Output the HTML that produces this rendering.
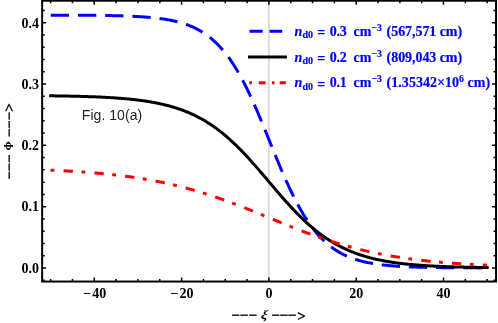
<!DOCTYPE html>
<html><head><meta charset="utf-8"><title>Fig. 10(a)</title>
<style>
html,body{margin:0;padding:0;background:#fff;}
body{width:498px;height:323px;overflow:hidden;font-family:"Liberation Serif",serif;}
svg{display:block;will-change:transform;}
svg text{font-family:"Liberation Serif",serif;font-weight:bold;}
svg text.sans{font-family:"Liberation Sans",sans-serif;font-weight:normal;}
</style></head><body>
<svg width="498" height="323" viewBox="0 0 498 323">
<rect width="498" height="323" fill="#fff"/>
<line x1="268.9" y1="0.7" x2="268.9" y2="281.55" stroke="#cacaca" stroke-width="1.25"/>
<!-- curves -->
<path d="M50.80,15.14 L51.89,15.14 L52.98,15.14 L54.07,15.14 L55.16,15.15 L56.25,15.15 L57.35,15.15 L58.44,15.15 L59.53,15.16 L60.62,15.16 L61.71,15.16 L62.80,15.17 L63.89,15.17 L64.98,15.17 L66.07,15.18 L67.16,15.18 L68.25,15.18 L69.34,15.19 L70.44,15.19 L71.53,15.20 L72.62,15.20 L73.71,15.21 L74.80,15.21 L75.89,15.22 L76.98,15.22 L78.07,15.23 L79.16,15.24 L80.25,15.24 L81.34,15.25 L82.44,15.26 L83.53,15.26 L84.62,15.27 L85.71,15.28 L86.80,15.29 L87.89,15.30 L88.98,15.31 L90.07,15.32 L91.16,15.33 L92.25,15.34 L93.34,15.35 L94.44,15.36 L95.53,15.37 L96.62,15.38 L97.71,15.39 L98.80,15.41 L99.89,15.42 L100.98,15.44 L102.07,15.45 L103.16,15.47 L104.25,15.48 L105.34,15.50 L106.43,15.52 L107.53,15.54 L108.62,15.56 L109.71,15.58 L110.80,15.60 L111.89,15.62 L112.98,15.64 L114.07,15.67 L115.16,15.69 L116.25,15.72 L117.34,15.75 L118.43,15.78 L119.53,15.80 L120.62,15.84 L121.71,15.87 L122.80,15.90 L123.89,15.94 L124.98,15.97 L126.07,16.01 L127.16,16.05 L128.25,16.09 L129.34,16.14 L130.43,16.18 L131.52,16.23 L132.62,16.28 L133.71,16.33 L134.80,16.39 L135.89,16.44 L136.98,16.50 L138.07,16.56 L139.16,16.63 L140.25,16.69 L141.34,16.76 L142.43,16.83 L143.52,16.91 L144.62,16.99 L145.71,17.07 L146.80,17.16 L147.89,17.25 L148.98,17.34 L150.07,17.44 L151.16,17.54 L152.25,17.64 L153.34,17.75 L154.43,17.87 L155.52,17.99 L156.61,18.11 L157.71,18.24 L158.80,18.38 L159.89,18.52 L160.98,18.66 L162.07,18.82 L163.16,18.98 L164.25,19.14 L165.34,19.32 L166.43,19.50 L167.52,19.69 L168.61,19.88 L169.71,20.09 L170.80,20.30 L171.89,20.52 L172.98,20.75 L174.07,20.99 L175.16,21.24 L176.25,21.50 L177.34,21.78 L178.43,22.06 L179.52,22.35 L180.61,22.66 L181.70,22.98 L182.80,23.31 L183.89,23.66 L184.98,24.02 L186.07,24.39 L187.16,24.78 L188.25,25.18 L189.34,25.60 L190.43,26.04 L191.52,26.50 L192.61,26.97 L193.70,27.46 L194.80,27.97 L195.89,28.50 L196.98,29.05 L198.07,29.63 L199.16,30.22 L200.25,30.84 L201.34,31.48 L202.43,32.14 L203.52,32.83 L204.61,33.55 L205.70,34.29 L206.80,35.06 L207.89,35.86 L208.98,36.68 L210.07,37.54 L211.16,38.43 L212.25,39.34 L213.34,40.29 L214.43,41.28 L215.52,42.29 L216.61,43.34 L217.70,44.43 L218.79,45.55 L219.89,46.71 L220.98,47.91 L222.07,49.14 L223.16,50.42 L224.25,51.73 L225.34,53.09 L226.43,54.48 L227.52,55.92 L228.61,57.40 L229.70,58.92 L230.79,60.48 L231.89,62.09 L232.98,63.74 L234.07,65.44 L235.16,67.18 L236.25,68.96 L237.34,70.78 L238.43,72.66 L239.52,74.57 L240.61,76.53 L241.70,78.53 L242.79,80.58 L243.88,82.66 L244.98,84.79 L246.07,86.96 L247.16,89.17 L248.25,91.42 L249.34,93.71 L250.43,96.03 L251.52,98.40 L252.61,100.79 L253.70,103.22 L254.79,105.68 L255.88,108.17 L256.98,110.69 L258.07,113.23 L259.16,115.80 L260.25,118.39 L261.34,121.00 L262.43,123.63 L263.52,126.28 L264.61,128.93 L265.70,131.60 L266.79,134.28 L267.88,136.97 L268.97,139.66 L270.07,142.35 L271.16,145.04 L272.25,147.73 L273.34,150.41 L274.43,153.08 L275.52,155.75 L276.61,158.40 L277.70,161.03 L278.79,163.65 L279.88,166.25 L280.97,168.83 L282.07,171.38 L283.16,173.91 L284.25,176.41 L285.34,178.88 L286.43,181.32 L287.52,183.73 L288.61,186.10 L289.70,188.44 L290.79,190.74 L291.88,193.01 L292.97,195.23 L294.07,197.42 L295.16,199.56 L296.25,201.67 L297.34,203.73 L298.43,205.75 L299.52,207.72 L300.61,209.65 L301.70,211.54 L302.79,213.39 L303.88,215.18 L304.97,216.94 L306.06,218.65 L307.16,220.32 L308.25,221.94 L309.34,223.52 L310.43,225.06 L311.52,226.56 L312.61,228.01 L313.70,229.42 L314.79,230.79 L315.88,232.12 L316.97,233.41 L318.06,234.66 L319.16,235.87 L320.25,237.05 L321.34,238.18 L322.43,239.28 L323.52,240.35 L324.61,241.38 L325.70,242.37 L326.79,243.33 L327.88,244.26 L328.97,245.16 L330.06,246.03 L331.15,246.87 L332.25,247.68 L333.34,248.46 L334.43,249.21 L335.52,249.93 L336.61,250.63 L337.70,251.31 L338.79,251.96 L339.88,252.58 L340.97,253.19 L342.06,253.77 L343.15,254.33 L344.25,254.86 L345.34,255.38 L346.43,255.88 L347.52,256.36 L348.61,256.82 L349.70,257.27 L350.79,257.69 L351.88,258.11 L352.97,258.50 L354.06,258.88 L355.15,259.25 L356.25,259.60 L357.34,259.93 L358.43,260.26 L359.52,260.57 L360.61,260.87 L361.70,261.15 L362.79,261.43 L363.88,261.70 L364.97,261.95 L366.06,262.19 L367.15,262.43 L368.24,262.65 L369.34,262.87 L370.43,263.08 L371.52,263.28 L372.61,263.47 L373.70,263.65 L374.79,263.83 L375.88,264.00 L376.97,264.16 L378.06,264.32 L379.15,264.47 L380.24,264.61 L381.34,264.75 L382.43,264.88 L383.52,265.00 L384.61,265.13 L385.70,265.24 L386.79,265.35 L387.88,265.46 L388.97,265.56 L390.06,265.66 L391.15,265.76 L392.24,265.85 L393.33,265.93 L394.43,266.02 L395.52,266.10 L396.61,266.17 L397.70,266.25 L398.79,266.32 L399.88,266.39 L400.97,266.45 L402.06,266.51 L403.15,266.57 L404.24,266.63 L405.33,266.68 L406.43,266.74 L407.52,266.79 L408.61,266.84 L409.70,266.88 L410.79,266.93 L411.88,266.97 L412.97,267.01 L414.06,267.05 L415.15,267.09 L416.24,267.12 L417.33,267.16 L418.42,267.19 L419.52,267.22 L420.61,267.25 L421.70,267.28 L422.79,267.31 L423.88,267.33 L424.97,267.36 L426.06,267.38 L427.15,267.41 L428.24,267.43 L429.33,267.45 L430.42,267.47 L431.52,267.49 L432.61,267.51 L433.70,267.53 L434.79,267.55 L435.88,267.56 L436.97,267.58 L438.06,267.60 L439.15,267.61 L440.24,267.62 L441.33,267.64 L442.42,267.65 L443.51,267.66 L444.61,267.68 L445.70,267.69 L446.79,267.70 L447.88,267.71 L448.97,267.72 L450.06,267.73 L451.15,267.74 L452.24,267.75 L453.33,267.75 L454.42,267.76 L455.51,267.77 L456.61,267.78 L457.70,267.79 L458.79,267.79 L459.88,267.80 L460.97,267.81 L462.06,267.81 L463.15,267.82 L464.24,267.82 L465.33,267.83 L466.42,267.83 L467.51,267.84 L468.61,267.84 L469.70,267.85 L470.79,267.85 L471.88,267.86 L472.97,267.86 L474.06,267.86 L475.15,267.87 L476.24,267.87 L477.33,267.87 L478.42,267.88 L479.51,267.88 L480.60,267.88 L481.70,267.89 L482.79,267.89 L483.88,267.89 L484.97,267.89 L486.06,267.90 L487.15,267.90" fill="none" stroke="#0000ff" stroke-width="3" stroke-dasharray="18.3 8.9"/>
<path d="M50.65,95.83 L51.74,95.84 L52.83,95.86 L53.92,95.87 L55.01,95.88 L56.11,95.90 L57.20,95.91 L58.29,95.93 L59.38,95.95 L60.47,95.96 L61.56,95.98 L62.65,96.00 L63.74,96.02 L64.84,96.04 L65.93,96.06 L67.02,96.08 L68.11,96.10 L69.20,96.12 L70.29,96.14 L71.38,96.16 L72.47,96.18 L73.57,96.21 L74.66,96.23 L75.75,96.26 L76.84,96.29 L77.93,96.31 L79.02,96.34 L80.11,96.37 L81.20,96.40 L82.30,96.43 L83.39,96.46 L84.48,96.49 L85.57,96.53 L86.66,96.56 L87.75,96.59 L88.84,96.63 L89.93,96.67 L91.03,96.71 L92.12,96.75 L93.21,96.79 L94.30,96.83 L95.39,96.87 L96.48,96.92 L97.57,96.96 L98.66,97.01 L99.76,97.06 L100.85,97.11 L101.94,97.16 L103.03,97.21 L104.12,97.27 L105.21,97.32 L106.30,97.38 L107.39,97.44 L108.49,97.50 L109.58,97.57 L110.67,97.63 L111.76,97.70 L112.85,97.77 L113.94,97.84 L115.03,97.91 L116.12,97.99 L117.22,98.06 L118.31,98.14 L119.40,98.23 L120.49,98.31 L121.58,98.40 L122.67,98.49 L123.76,98.58 L124.85,98.67 L125.95,98.77 L127.04,98.87 L128.13,98.98 L129.22,99.08 L130.31,99.19 L131.40,99.30 L132.49,99.42 L133.58,99.54 L134.68,99.66 L135.77,99.79 L136.86,99.92 L137.95,100.05 L139.04,100.19 L140.13,100.33 L141.22,100.48 L142.31,100.62 L143.41,100.78 L144.50,100.94 L145.59,101.10 L146.68,101.27 L147.77,101.44 L148.86,101.61 L149.95,101.80 L151.04,101.98 L152.14,102.18 L153.23,102.37 L154.32,102.58 L155.41,102.78 L156.50,103.00 L157.59,103.22 L158.68,103.44 L159.77,103.68 L160.87,103.92 L161.96,104.16 L163.05,104.41 L164.14,104.67 L165.23,104.94 L166.32,105.21 L167.41,105.49 L168.50,105.78 L169.60,106.07 L170.69,106.38 L171.78,106.69 L172.87,107.01 L173.96,107.34 L175.05,107.67 L176.14,108.02 L177.23,108.37 L178.33,108.74 L179.42,109.11 L180.51,109.49 L181.60,109.88 L182.69,110.28 L183.78,110.69 L184.87,111.12 L185.96,111.55 L187.06,111.99 L188.15,112.44 L189.24,112.91 L190.33,113.39 L191.42,113.87 L192.51,114.37 L193.60,114.88 L194.69,115.40 L195.79,115.94 L196.88,116.49 L197.97,117.04 L199.06,117.62 L200.15,118.20 L201.24,118.80 L202.33,119.41 L203.42,120.03 L204.52,120.67 L205.61,121.32 L206.70,121.99 L207.79,122.67 L208.88,123.36 L209.97,124.07 L211.06,124.79 L212.15,125.52 L213.25,126.27 L214.34,127.04 L215.43,127.82 L216.52,128.61 L217.61,129.42 L218.70,130.24 L219.79,131.08 L220.88,131.94 L221.98,132.80 L223.07,133.69 L224.16,134.58 L225.25,135.50 L226.34,136.42 L227.43,137.36 L228.52,138.32 L229.61,139.29 L230.71,140.27 L231.80,141.27 L232.89,142.29 L233.98,143.31 L235.07,144.35 L236.16,145.41 L237.25,146.48 L238.34,147.56 L239.44,148.65 L240.53,149.76 L241.62,150.87 L242.71,152.01 L243.80,153.15 L244.89,154.30 L245.98,155.46 L247.07,156.64 L248.17,157.82 L249.26,159.02 L250.35,160.22 L251.44,161.44 L252.53,162.66 L253.62,163.89 L254.71,165.13 L255.80,166.37 L256.90,167.62 L257.99,168.88 L259.08,170.14 L260.17,171.41 L261.26,172.68 L262.35,173.96 L263.44,175.24 L264.53,176.52 L265.63,177.81 L266.72,179.09 L267.81,180.38 L268.90,181.67 L269.99,182.96 L271.08,184.25 L272.17,185.53 L273.26,186.82 L274.36,188.10 L275.45,189.38 L276.54,190.66 L277.63,191.93 L278.72,193.20 L279.81,194.46 L280.90,195.72 L282.00,196.97 L283.09,198.21 L284.18,199.45 L285.27,200.68 L286.36,201.90 L287.45,203.12 L288.54,204.32 L289.63,205.52 L290.72,206.70 L291.82,207.88 L292.91,209.04 L294.00,210.19 L295.09,211.34 L296.18,212.47 L297.27,213.58 L298.36,214.69 L299.45,215.78 L300.55,216.86 L301.64,217.93 L302.73,218.99 L303.82,220.03 L304.91,221.05 L306.00,222.07 L307.09,223.07 L308.19,224.05 L309.28,225.02 L310.37,225.98 L311.46,226.92 L312.55,227.85 L313.64,228.76 L314.73,229.65 L315.82,230.54 L316.91,231.41 L318.01,232.26 L319.10,233.10 L320.19,233.92 L321.28,234.73 L322.37,235.52 L323.46,236.30 L324.55,237.07 L325.64,237.82 L326.74,238.55 L327.83,239.27 L328.92,239.98 L330.01,240.67 L331.10,241.35 L332.19,242.02 L333.28,242.67 L334.38,243.31 L335.47,243.93 L336.56,244.54 L337.65,245.14 L338.74,245.72 L339.83,246.30 L340.92,246.86 L342.01,247.40 L343.10,247.94 L344.20,248.46 L345.29,248.97 L346.38,249.47 L347.47,249.96 L348.56,250.43 L349.65,250.90 L350.74,251.35 L351.83,251.79 L352.93,252.22 L354.02,252.65 L355.11,253.06 L356.20,253.46 L357.29,253.85 L358.38,254.23 L359.47,254.60 L360.56,254.97 L361.66,255.32 L362.75,255.67 L363.84,256.00 L364.93,256.33 L366.02,256.65 L367.11,256.96 L368.20,257.27 L369.29,257.56 L370.39,257.85 L371.48,258.13 L372.57,258.40 L373.66,258.67 L374.75,258.93 L375.84,259.18 L376.93,259.42 L378.02,259.66 L379.12,259.90 L380.21,260.12 L381.30,260.34 L382.39,260.56 L383.48,260.76 L384.57,260.97 L385.66,261.17 L386.75,261.36 L387.85,261.54 L388.94,261.73 L390.03,261.90 L391.12,262.07 L392.21,262.24 L393.30,262.40 L394.39,262.56 L395.49,262.72 L396.58,262.87 L397.67,263.01 L398.76,263.15 L399.85,263.29 L400.94,263.42 L402.03,263.55 L403.12,263.68 L404.21,263.80 L405.31,263.92 L406.40,264.04 L407.49,264.15 L408.58,264.26 L409.67,264.37 L410.76,264.47 L411.85,264.57 L412.94,264.67 L414.04,264.76 L415.13,264.85 L416.22,264.94 L417.31,265.03 L418.40,265.11 L419.49,265.20 L420.58,265.28 L421.67,265.35 L422.77,265.43 L423.86,265.50 L424.95,265.57 L426.04,265.64 L427.13,265.71 L428.22,265.77 L429.31,265.84 L430.40,265.90 L431.50,265.96 L432.59,266.02 L433.68,266.07 L434.77,266.13 L435.86,266.18 L436.95,266.23 L438.04,266.28 L439.13,266.33 L440.23,266.38 L441.32,266.42 L442.41,266.47 L443.50,266.51 L444.59,266.55 L445.68,266.59 L446.77,266.63 L447.87,266.67 L448.96,266.71 L450.05,266.75 L451.14,266.78 L452.23,266.82 L453.32,266.85 L454.41,266.88 L455.50,266.91 L456.60,266.94 L457.69,266.97 L458.78,267.00 L459.87,267.03 L460.96,267.06 L462.05,267.08 L463.14,267.11 L464.23,267.13 L465.32,267.16 L466.42,267.18 L467.51,267.20 L468.60,267.22 L469.69,267.24 L470.78,267.27 L471.87,267.29 L472.96,267.30 L474.05,267.32 L475.15,267.34 L476.24,267.36 L477.33,267.38 L478.42,267.39 L479.51,267.41 L480.60,267.43 L481.69,267.44 L482.78,267.46 L483.88,267.47 L484.97,267.49 L486.06,267.50 L487.15,267.51" fill="none" stroke="#000" stroke-width="3" stroke-linecap="square"/>
<path d="M50.60,170.17 L51.69,170.21 L52.78,170.26 L53.87,170.31 L54.97,170.36 L56.06,170.41 L57.15,170.47 L58.24,170.52 L59.33,170.57 L60.42,170.63 L61.51,170.68 L62.61,170.74 L63.70,170.80 L64.79,170.86 L65.88,170.92 L66.97,170.98 L68.06,171.04 L69.15,171.10 L70.24,171.17 L71.34,171.23 L72.43,171.30 L73.52,171.37 L74.61,171.43 L75.70,171.50 L76.79,171.57 L77.88,171.65 L78.98,171.72 L80.07,171.79 L81.16,171.87 L82.25,171.95 L83.34,172.02 L84.43,172.10 L85.52,172.18 L86.62,172.26 L87.71,172.35 L88.80,172.43 L89.89,172.52 L90.98,172.60 L92.07,172.69 L93.16,172.78 L94.25,172.87 L95.35,172.97 L96.44,173.06 L97.53,173.16 L98.62,173.26 L99.71,173.35 L100.80,173.45 L101.89,173.56 L102.99,173.66 L104.08,173.77 L105.17,173.87 L106.26,173.98 L107.35,174.09 L108.44,174.20 L109.53,174.32 L110.63,174.43 L111.72,174.55 L112.81,174.67 L113.90,174.79 L114.99,174.91 L116.08,175.04 L117.17,175.17 L118.27,175.29 L119.36,175.43 L120.45,175.56 L121.54,175.69 L122.63,175.83 L123.72,175.97 L124.81,176.11 L125.90,176.25 L127.00,176.40 L128.09,176.54 L129.18,176.69 L130.27,176.84 L131.36,177.00 L132.45,177.15 L133.54,177.31 L134.64,177.47 L135.73,177.64 L136.82,177.80 L137.91,177.97 L139.00,178.14 L140.09,178.31 L141.18,178.48 L142.28,178.66 L143.37,178.84 L144.46,179.02 L145.55,179.21 L146.64,179.39 L147.73,179.58 L148.82,179.78 L149.92,179.97 L151.01,180.17 L152.10,180.37 L153.19,180.57 L154.28,180.78 L155.37,180.99 L156.46,181.20 L157.55,181.41 L158.65,181.63 L159.74,181.85 L160.83,182.07 L161.92,182.29 L163.01,182.52 L164.10,182.75 L165.19,182.99 L166.29,183.22 L167.38,183.46 L168.47,183.70 L169.56,183.95 L170.65,184.20 L171.74,184.45 L172.83,184.70 L173.93,184.96 L175.02,185.22 L176.11,185.48 L177.20,185.75 L178.29,186.02 L179.38,186.29 L180.47,186.57 L181.56,186.84 L182.66,187.13 L183.75,187.41 L184.84,187.70 L185.93,187.99 L187.02,188.28 L188.11,188.58 L189.20,188.88 L190.30,189.18 L191.39,189.49 L192.48,189.80 L193.57,190.11 L194.66,190.42 L195.75,190.74 L196.84,191.06 L197.94,191.39 L199.03,191.72 L200.12,192.05 L201.21,192.38 L202.30,192.72 L203.39,193.06 L204.48,193.40 L205.58,193.74 L206.67,194.09 L207.76,194.44 L208.85,194.80 L209.94,195.16 L211.03,195.52 L212.12,195.88 L213.21,196.25 L214.31,196.61 L215.40,196.99 L216.49,197.36 L217.58,197.74 L218.67,198.12 L219.76,198.50 L220.85,198.88 L221.95,199.27 L223.04,199.66 L224.13,200.05 L225.22,200.45 L226.31,200.84 L227.40,201.24 L228.49,201.65 L229.59,202.05 L230.68,202.46 L231.77,202.87 L232.86,203.28 L233.95,203.69 L235.04,204.10 L236.13,204.52 L237.23,204.94 L238.32,205.36 L239.41,205.78 L240.50,206.21 L241.59,206.64 L242.68,207.06 L243.77,207.49 L244.86,207.92 L245.96,208.36 L247.05,208.79 L248.14,209.23 L249.23,209.66 L250.32,210.10 L251.41,210.54 L252.50,210.98 L253.60,211.42 L254.69,211.86 L255.78,212.31 L256.87,212.75 L257.96,213.20 L259.05,213.64 L260.14,214.09 L261.24,214.54 L262.33,214.98 L263.42,215.43 L264.51,215.88 L265.60,216.33 L266.69,216.78 L267.78,217.22 L268.88,217.67 L269.97,218.12 L271.06,218.57 L272.15,219.02 L273.24,219.47 L274.33,219.92 L275.42,220.36 L276.51,220.81 L277.61,221.26 L278.70,221.70 L279.79,222.15 L280.88,222.60 L281.97,223.04 L283.06,223.48 L284.15,223.93 L285.25,224.37 L286.34,224.81 L287.43,225.25 L288.52,225.68 L289.61,226.12 L290.70,226.56 L291.79,226.99 L292.89,227.42 L293.98,227.86 L295.07,228.28 L296.16,228.71 L297.25,229.14 L298.34,229.56 L299.43,229.99 L300.52,230.41 L301.62,230.83 L302.71,231.24 L303.80,231.66 L304.89,232.07 L305.98,232.48 L307.07,232.89 L308.16,233.30 L309.26,233.70 L310.35,234.11 L311.44,234.51 L312.53,234.90 L313.62,235.30 L314.71,235.69 L315.80,236.08 L316.90,236.47 L317.99,236.85 L319.08,237.23 L320.17,237.61 L321.26,237.99 L322.35,238.37 L323.44,238.74 L324.54,239.11 L325.63,239.47 L326.72,239.83 L327.81,240.20 L328.90,240.55 L329.99,240.91 L331.08,241.26 L332.17,241.61 L333.27,241.95 L334.36,242.30 L335.45,242.64 L336.54,242.97 L337.63,243.31 L338.72,243.64 L339.81,243.96 L340.91,244.29 L342.00,244.61 L343.09,244.93 L344.18,245.24 L345.27,245.56 L346.36,245.87 L347.45,246.17 L348.55,246.48 L349.64,246.78 L350.73,247.07 L351.82,247.37 L352.91,247.66 L354.00,247.94 L355.09,248.23 L356.19,248.51 L357.28,248.79 L358.37,249.07 L359.46,249.34 L360.55,249.61 L361.64,249.87 L362.73,250.14 L363.82,250.40 L364.92,250.65 L366.01,250.91 L367.10,251.16 L368.19,251.41 L369.28,251.65 L370.37,251.90 L371.46,252.13 L372.56,252.37 L373.65,252.61 L374.74,252.84 L375.83,253.06 L376.92,253.29 L378.01,253.51 L379.10,253.73 L380.20,253.95 L381.29,254.16 L382.38,254.37 L383.47,254.58 L384.56,254.79 L385.65,254.99 L386.74,255.19 L387.83,255.39 L388.93,255.58 L390.02,255.77 L391.11,255.96 L392.20,256.15 L393.29,256.34 L394.38,256.52 L395.47,256.70 L396.57,256.88 L397.66,257.05 L398.75,257.22 L399.84,257.39 L400.93,257.56 L402.02,257.73 L403.11,257.89 L404.21,258.05 L405.30,258.21 L406.39,258.36 L407.48,258.52 L408.57,258.67 L409.66,258.82 L410.75,258.96 L411.85,259.11 L412.94,259.25 L414.03,259.39 L415.12,259.53 L416.21,259.67 L417.30,259.80 L418.39,259.94 L419.48,260.07 L420.58,260.20 L421.67,260.32 L422.76,260.45 L423.85,260.57 L424.94,260.69 L426.03,260.81 L427.12,260.93 L428.22,261.04 L429.31,261.16 L430.40,261.27 L431.49,261.38 L432.58,261.49 L433.67,261.60 L434.76,261.70 L435.86,261.81 L436.95,261.91 L438.04,262.01 L439.13,262.11 L440.22,262.21 L441.31,262.30 L442.40,262.40 L443.50,262.49 L444.59,262.58 L445.68,262.67 L446.77,262.76 L447.86,262.85 L448.95,262.93 L450.04,263.02 L451.13,263.10 L452.23,263.18 L453.32,263.26 L454.41,263.34 L455.50,263.42 L456.59,263.50 L457.68,263.57 L458.77,263.65 L459.87,263.72 L460.96,263.79 L462.05,263.86 L463.14,263.93 L464.23,264.00 L465.32,264.07 L466.41,264.13 L467.51,264.20 L468.60,264.26 L469.69,264.32 L470.78,264.39 L471.87,264.45 L472.96,264.51 L474.05,264.57 L475.14,264.62 L476.24,264.68 L477.33,264.74 L478.42,264.79 L479.51,264.85 L480.60,264.90 L481.69,264.95 L482.78,265.00 L483.88,265.05 L484.97,265.10 L486.06,265.15 L487.15,265.20" fill="none" stroke="#ff0000" stroke-width="3" stroke-dasharray="3.8 9.15 9.4 8.55"/>
<!-- legend samples -->
<path d="M249.5,31.3 h13.1 M269.6,31.3 h12.6" stroke="#0000ff" stroke-width="3" fill="none"/>
<path d="M248,57.1 H286.9" stroke="#000" stroke-width="3" fill="none"/>
<path d="M249.3,82.8 h2.6 M258.8,82.8 h6.8 M271.9,82.8 h2.6 M279.7,82.8 h6.2" stroke="#ff0000" stroke-width="3" fill="none"/>
<!-- frame -->
<rect x="42.15" y="0.7" width="453.90000000000003" height="280.85" fill="none" stroke="#000" stroke-width="2"/>
<path d="M50.65,281.55 v-2.5 M50.65,0.7 v2.5 M72.47,281.55 v-2.5 M72.47,0.7 v2.5 M94.30,281.55 v-4.0 M94.30,0.7 v4.0 M116.12,281.55 v-2.5 M116.12,0.7 v2.5 M137.95,281.55 v-2.5 M137.95,0.7 v2.5 M159.77,281.55 v-2.5 M159.77,0.7 v2.5 M181.60,281.55 v-4.0 M181.60,0.7 v4.0 M203.42,281.55 v-2.5 M203.42,0.7 v2.5 M225.25,281.55 v-2.5 M225.25,0.7 v2.5 M247.07,281.55 v-2.5 M247.07,0.7 v2.5 M268.90,281.55 v-4.0 M268.90,0.7 v4.0 M290.72,281.55 v-2.5 M290.72,0.7 v2.5 M312.55,281.55 v-2.5 M312.55,0.7 v2.5 M334.38,281.55 v-2.5 M334.38,0.7 v2.5 M356.20,281.55 v-4.0 M356.20,0.7 v4.0 M378.02,281.55 v-2.5 M378.02,0.7 v2.5 M399.85,281.55 v-2.5 M399.85,0.7 v2.5 M421.67,281.55 v-2.5 M421.67,0.7 v2.5 M443.50,281.55 v-4.0 M443.50,0.7 v4.0 M465.32,281.55 v-2.5 M465.32,0.7 v2.5 M487.15,281.55 v-2.5 M487.15,0.7 v2.5 M42.15,280.21 h2.5 M496.05,280.21 h-2.5 M42.15,267.95 h4.0 M496.05,267.95 h-4.0 M42.15,255.69 h2.5 M496.05,255.69 h-2.5 M42.15,243.43 h2.5 M496.05,243.43 h-2.5 M42.15,231.17 h2.5 M496.05,231.17 h-2.5 M42.15,218.91 h2.5 M496.05,218.91 h-2.5 M42.15,206.65 h4.0 M496.05,206.65 h-4.0 M42.15,194.39 h2.5 M496.05,194.39 h-2.5 M42.15,182.13 h2.5 M496.05,182.13 h-2.5 M42.15,169.87 h2.5 M496.05,169.87 h-2.5 M42.15,157.61 h2.5 M496.05,157.61 h-2.5 M42.15,145.35 h4.0 M496.05,145.35 h-4.0 M42.15,133.09 h2.5 M496.05,133.09 h-2.5 M42.15,120.83 h2.5 M496.05,120.83 h-2.5 M42.15,108.57 h2.5 M496.05,108.57 h-2.5 M42.15,96.31 h2.5 M496.05,96.31 h-2.5 M42.15,84.05 h4.0 M496.05,84.05 h-4.0 M42.15,71.79 h2.5 M496.05,71.79 h-2.5 M42.15,59.53 h2.5 M496.05,59.53 h-2.5 M42.15,47.27 h2.5 M496.05,47.27 h-2.5 M42.15,35.01 h2.5 M496.05,35.01 h-2.5 M42.15,22.75 h4.0 M496.05,22.75 h-4.0 M42.15,10.49 h2.5 M496.05,10.49 h-2.5" stroke="#000" stroke-width="1.5" fill="none"/>
<!-- tick labels -->
<g font-size="14" fill="#000"><text x="39.0" y="272.75" text-anchor="end">0.0</text><text x="39.0" y="211.45" text-anchor="end">0.1</text><text x="39.0" y="150.15" text-anchor="end">0.2</text><text x="39.0" y="88.85" text-anchor="end">0.3</text><text x="39.0" y="27.55" text-anchor="end">0.4</text><text x="94.80" y="298.0" text-anchor="middle"><tspan letter-spacing="1.0">−</tspan>40</text><text x="182.10" y="298.0" text-anchor="middle"><tspan letter-spacing="1.0">−</tspan>20</text><text x="268.90" y="298.0" text-anchor="middle">0</text><text x="356.20" y="298.0" text-anchor="middle">20</text><text x="443.50" y="298.0" text-anchor="middle">40</text></g>
<!-- legend text -->
<g font-size="14" fill="#0000ff" stroke="#0000ff" stroke-width="0.18">
<text x="294.6" y="35.6"><tspan font-style="italic">n</tspan><tspan dy="2.8" font-size="10">d0</tspan></text><text x="317.3" y="37.4" stroke="#0000ff" stroke-width="0.25">=</text><text x="329.8" y="35.6" letter-spacing="-0.25">0.3</text><text x="353.6" y="35.6">cm<tspan dy="-5" font-size="9.8">−3</tspan></text><text x="386.6" y="35.6" letter-spacing="-0.06">(567,571 cm)</text>
<text x="294.6" y="61.6"><tspan font-style="italic">n</tspan><tspan dy="2.8" font-size="10">d0</tspan></text><text x="317.3" y="63.4" stroke="#0000ff" stroke-width="0.25">=</text><text x="329.8" y="61.6" letter-spacing="-0.25">0.2</text><text x="353.6" y="61.6">cm<tspan dy="-5" font-size="9.8">−3</tspan></text><text x="386.6" y="61.6" letter-spacing="-0.06">(809,043 cm)</text>
<text x="294.6" y="87.4"><tspan font-style="italic">n</tspan><tspan dy="2.8" font-size="10">d0</tspan></text><text x="317.3" y="89.2" stroke="#0000ff" stroke-width="0.25">=</text><text x="329.8" y="87.4" letter-spacing="-0.25">0.1</text><text x="353.6" y="87.4">cm<tspan dy="-5" font-size="9.8">−3</tspan></text><text x="386.6" y="87.4" letter-spacing="0.03">(1.35342×10<tspan dy='-5' font-size='9.8'>6</tspan><tspan dy='5'> cm)</tspan></text>
</g>
<text class="sans" x="81.8" y="119.7" font-size="14" letter-spacing="0.05" fill="#222">Fig. 10(a)</text>
<!-- axis labels -->
<g font-size="15" fill="#000" stroke="#000" stroke-width="0.3"><text x="231.3" y="320.4" letter-spacing="0">−−−</text><text x="271.3" y="320.4" letter-spacing="-0.35">−−−</text><text x="297.2" y="320.7">&gt;</text></g><text transform="translate(260.4,319.0) skewX(-10) scale(1.18,1)" font-size="12.4" font-style="italic" fill="#000">ξ</text>
<g transform="translate(14.3,178.9) rotate(-90)"><g font-size="15" fill="#000" stroke="#000" stroke-width="0.3"><text x="-0.8" y="0" letter-spacing="-0.25">−−−</text><text x="41.7" y="0" letter-spacing="-0.25">−−−</text><text x="67.1" y="0">&gt;</text></g><text transform="translate(28.4,-3.5) scale(1.2,1)" font-size="10.5" fill="#000">ɸ</text></g>
</svg>
</body></html>
